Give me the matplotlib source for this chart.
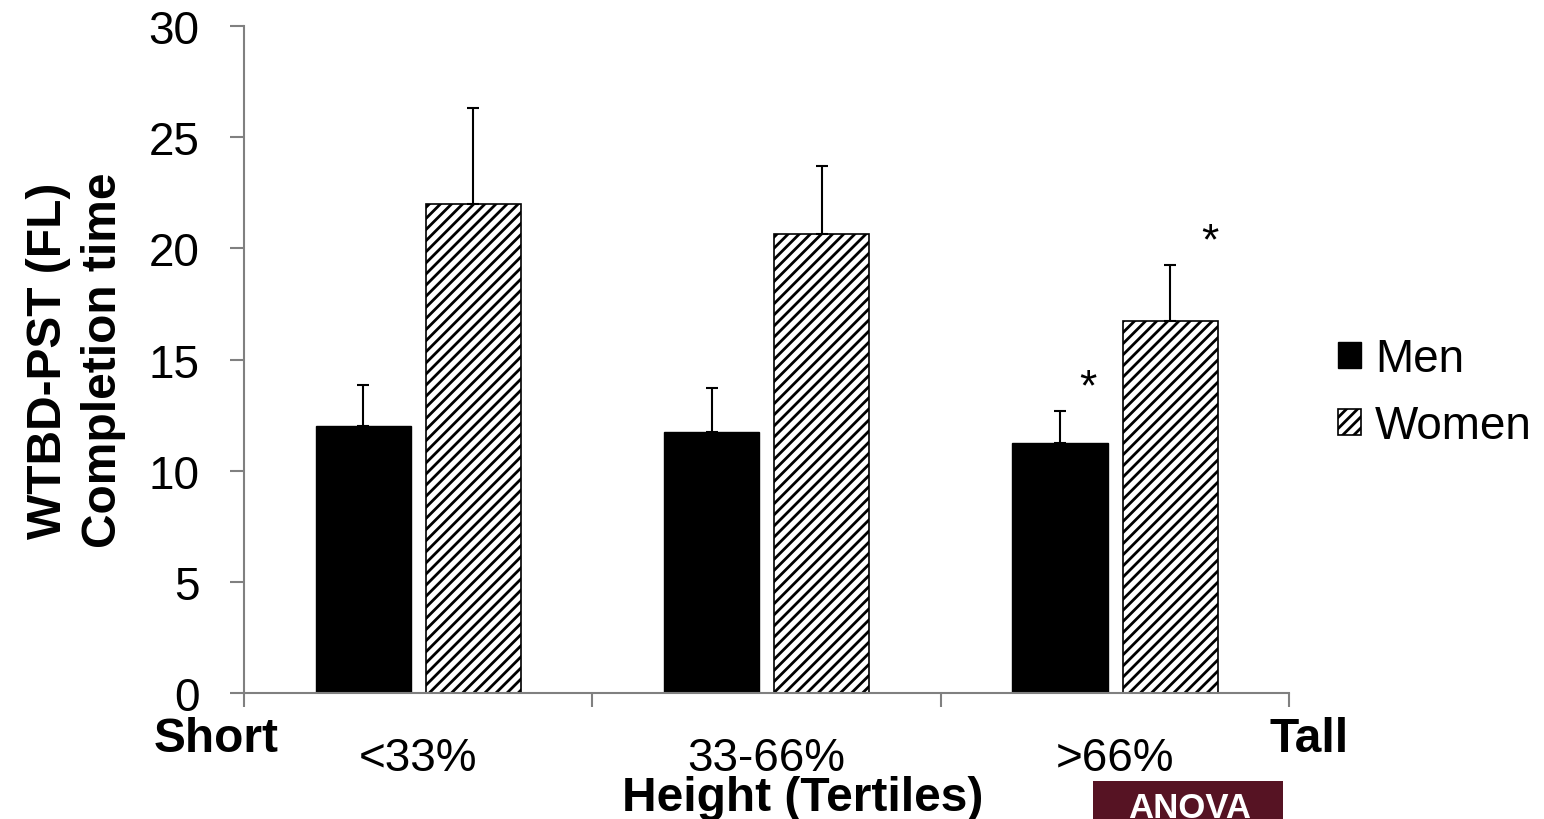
import matplotlib
matplotlib.use("Agg")
import matplotlib.pyplot as plt
import numpy as np

plt.rcParams['font.family'] = ['Liberation Sans', 'DejaVu Sans']
plt.rcParams['hatch.linewidth'] = 2.0

categories = ['<33%', '33-66%', '>66%']
men = [12.0, 11.75, 11.25]
men_err = [1.85, 1.95, 1.45]
women = [22.0, 20.65, 16.75]
women_err = [4.3, 3.05, 2.5]
series = ['Men', 'Women']
yticks = [0, 5, 10, 15, 20, 25, 30]
sig_men = [False, False, True]
sig_women = [False, False, True]

fig = plt.figure(figsize=(15.44, 8.2), dpi=100)
ax = fig.add_axes([0.158, 0.1537, 0.677, 0.8133])

x = np.arange(len(categories))
w = 0.273
off = 0.158
gray = '#808080'

ekw = dict(ecolor='black', elinewidth=1.5, capsize=4.5, capthick=1.5)
b1 = ax.bar(x - off, men, w, color='black', edgecolor='black', linewidth=1,
            yerr=[np.zeros(3), men_err], error_kw=ekw, label=series[0])
b2 = ax.bar(x + off, women, w, color='white', edgecolor='black', linewidth=1.2,
            hatch='///', yerr=[np.zeros(3), women_err], error_kw=ekw, label=series[1])

for i in range(3):
    if sig_men[i]:
        ax.annotate('*', xy=(x[i] - off, men[i] + men_err[i]), xytext=(20, 2),
                    textcoords='offset points', ha='center', va='bottom', fontsize=32)
    if sig_women[i]:
        ax.annotate('*', xy=(x[i] + off, women[i] + women_err[i]), xytext=(29, 2),
                    textcoords='offset points', ha='center', va='bottom', fontsize=32)

ax.set_xlim(-0.5, 2.5)
ax.set_ylim(0, 30)
ax.set_yticks(yticks)
ax.set_yticklabels([str(t) for t in yticks], fontsize=33)
ax.tick_params(axis='y', length=10, width=1.5, color=gray, pad=22)

ax.set_xticks([-0.5, 0.5, 1.5, 2.5])
ax.set_xticklabels([])
ax.tick_params(axis='x', length=10, width=1.5, color=gray)
for i, c in enumerate(categories):
    ax.text(x[i], -1.95, c, ha='center', va='top', fontsize=33)

for s in ['top', 'right']:
    ax.spines[s].set_visible(False)
for s in ['left', 'bottom']:
    ax.spines[s].set_color(gray)
    ax.spines[s].set_linewidth(1.5)

ax.set_ylabel('WTBD-PST (FL)\nCompletion time', fontsize=34.5, fontweight='bold',
              labelpad=16, linespacing=1.3)

fig.text(0.140, 0.098, 'Short', ha='center', va='center', fontsize=34.5, fontweight='bold')
fig.text(0.848, 0.098, 'Tall', ha='center', va='center', fontsize=34.5, fontweight='bold')
fig.text(0.520, 0.026, 'Height (Tertiles)', ha='center', va='center', fontsize=34.5, fontweight='bold')

fig.patches.append(plt.Rectangle((1093 / 1544, 0), 190 / 1544, 38 / 820,
                                 transform=fig.transFigure, facecolor='#561323',
                                 edgecolor='none'))
fig.text(1190 / 1544, 0.002, 'ANOVA', ha='center', va='baseline', fontsize=25,
         fontweight='bold', color='white')

leg = fig.legend(handles=[b1, b2], loc='center left', bbox_to_anchor=(0.84, 0.52),
                 frameon=False, fontsize=33, handlelength=0.5, handleheight=0.5,
                 handletextpad=0.3, labelspacing=0.5)

fig.savefig('out.png', dpi=100)
